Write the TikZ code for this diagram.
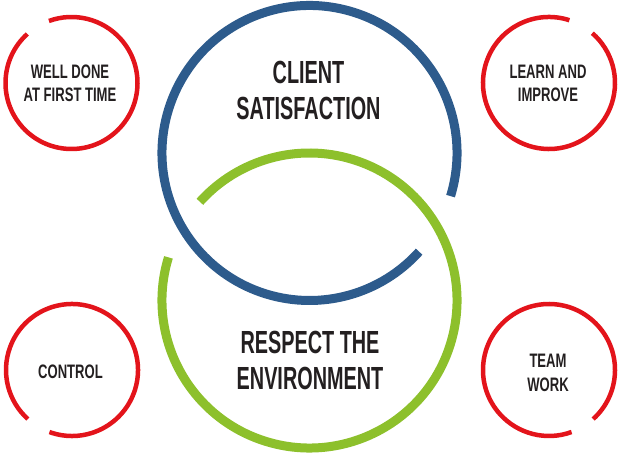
\documentclass[tikz,border=0pt]{standalone}
\usepackage{fontspec}
\newfontfamily\bigcond[FakeStretch=0.62]{Liberation Sans Bold}
\newfontfamily\smallcond[FakeStretch=0.67]{Liberation Sans Bold}
\definecolor{cblue}{HTML}{2D5B8C}
\definecolor{cgreen}{HTML}{8DC02C}
\definecolor{cred}{HTML}{E3141B}
\definecolor{ctext}{HTML}{231F20}
\tikzset{
  bigring/.style={line width=9pt},
  redring/.style={draw=cred, line width=4.5pt},
  bigtext/.style={text=ctext, align=center, inner sep=0pt, font=\bigcond\fontsize{32}{36}\selectfont},
  smalltext/.style={text=ctext, align=center, inner sep=0pt, font=\smallcond\fontsize{19.5}{23.5}\selectfont},
}
\begin{document}
\begin{tikzpicture}[x=1pt,y=1pt]
\useasboundingbox (0,0) rectangle (618,454);
% centres
\coordinate (cb) at (309.5,301);
\coordinate (cg) at (309.5,153.5);
\coordinate (ctl) at (71.5,371);
\coordinate (ctr) at (549,371);
\coordinate (cbl) at (72,84);
\coordinate (cbr) at (549,84);
% big rings
\draw[bigring, draw=cblue] (cb) ++(-17:147.5) arc[start angle=-17, end angle=318, radius=147.5];
\draw[bigring, draw=cgreen] (cg) ++(163:147.5) arc[start angle=163, end angle=498, radius=147.5];
% red rings
\draw[redring] (ctl) ++(132:66) arc[start angle=132, end angle=470, radius=66];
\draw[redring] (ctr) ++(72:66) arc[start angle=72, end angle=409, radius=66];
\draw[redring] (cbl) ++(250:66) arc[start angle=250, end angle=588, radius=66];
\draw[redring] (cbr) ++(-48:66) arc[start angle=-48, end angle=290, radius=66];
% texts
\node[bigtext] (client) at (308.5,364) {CLIENT\\SATISFACTION};
\node[bigtext] (respect) at (310,94) {RESPECT THE\\ENVIRONMENT};
\node[smalltext] (welldone) at (70,370.5) {WELL DONE\\AT FIRST TIME};
\node[smalltext] (learn) at (548,370.5) {LEARN AND\\IMPROVE};
\node[smalltext] (control) at (70.5,82) {CONTROL};
\node[smalltext] (team) at (548,81) {TEAM\\WORK};
\end{tikzpicture}
\end{document}
